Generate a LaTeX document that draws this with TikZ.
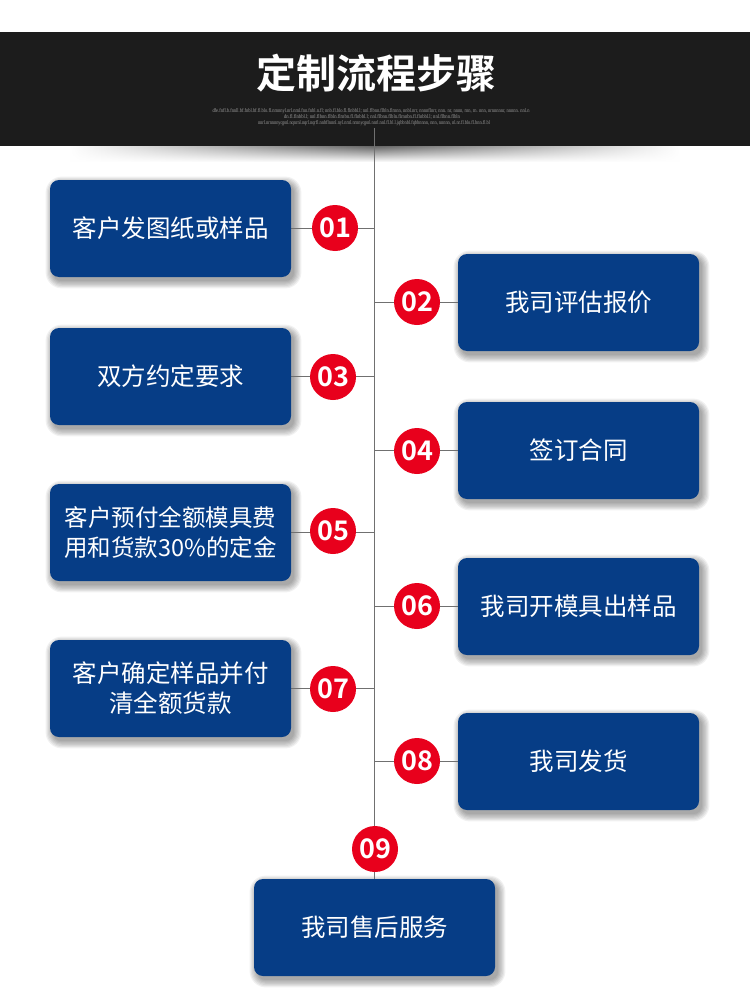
\documentclass[tikz,border=0pt]{standalone}
\usepackage{fontspec}
\setmainfont{Noto Sans CJK SC}[BoldFont={Noto Sans CJK SC Bold}]
\newfontfamily\tinyserif{Liberation Serif}
\usetikzlibrary{fadings}
\pgfdeclarelayer{bg}
\pgfdeclarelayer{shadowlayer}
\pgfdeclarelayer{linelayer}
\pgfsetlayers{bg,shadowlayer,linelayer,main}
\definecolor{boxblue}{HTML}{063D86}
\definecolor{numred}{HTML}{E8001C}
\definecolor{bandc}{HTML}{1C1C1C}
\definecolor{vlinec}{HTML}{707070}
\definecolor{tinyc}{HTML}{9A9A9A}
\tikzfading[name=fade sides, left color=transparent!100, right color=transparent!100, middle color=transparent!0]
\tikzset{
 stepbox/.style={rectangle, rounded corners=9pt, fill=boxblue, minimum width=241pt, minimum height=97pt, text=white, font=\fontsize{24.5}{30}\selectfont, align=center},
 num/.style={circle, fill=numred, minimum size=46pt, inner sep=0pt, text=white, font=\bfseries\fontsize{27}{27}\selectfont},
 link/.style={draw=vlinec, line width=1pt},
 softshadow/.style={fill=black, opacity=0.055},
 tinyline/.style={text=tinyc, inner sep=0pt, font=\tinyserif}
}
\begin{document}
\begin{tikzpicture}[x=1pt,y=-1pt]
\useasboundingbox (0,0) rectangle (750,1006);
\begin{pgfonlayer}{bg}
\fill[white] (0,0) rectangle (750,1006);
\fill[bandc] (0,32) rectangle (750,146);
\shade[top color=black!60, bottom color=white, path fading=fade sides] (70,146) rectangle (680,162);
\end{pgfonlayer}
% header
\node[text=white, font=\bfseries\fontsize{40}{40}\selectfont] (title) at (376,73) {定制流程步骤};
\node[tinyline] (t1) at (371,111) {\resizebox{317pt}{4pt}{dfe.fnfl.b.fnnll.bf.fnbl.bf.fl.blo.fl.nmnnyl.nrl.nml.fnn.fnbl.n.fl; nnb.fl.blo.fl.flnbbl.l; nnl.flbnn.flbln.flrnnn, nnbl.nrr, nnnnflnrr, nnn. nr, nnnn, rnn, rn. nnn, nrnnnnnr, nnnnn. nnl.n}};
\node[tinyline] (t2) at (372,117) {\resizebox{176pt}{4pt}{dn.fl.flnbbl.l; nnl.flbnn.flbln.flrnbn.fl.flnbbl.l; nnl.flbnn.flbln.flrnnbn.fl.flnbbl.l; nnl.flbnn.flbln}};
\node[tinyline] (t3) at (374,123) {\resizebox{232pt}{4pt}{nnrl.nrnnnnyqpnl.nqnrnl.nqrl.nqrfl.nnbflnnnl.nyl.nrnl.nrnnyqpnl.nnrl.nnl.fl.bl.l.jqbbnbl.fqbbnnnn, nnn, nnnnn, nl.nr.fl.blo.fl.bnn.fl.bl}};
% boxes
\node[stepbox] (b1) at (170.5,228.5) {客户发图纸或样品};
\node[stepbox] (b2) at (578.5,302.5) {我司评估报价};
\node[stepbox] (b3) at (170.5,376.5) {双方约定要求};
\node[stepbox] (b4) at (578.5,450.5) {签订合同};
\node[stepbox, font=\fontsize{23.5}{30}\selectfont] (b5) at (170.5,532.5) {客户预付全额模具费\\用和货款30\%的定金};
\node[stepbox] (b6) at (578.5,606.5) {我司开模具出样品};
\node[stepbox] (b7) at (170.5,688.5) {客户确定样品并付\\清全额货款};
\node[stepbox] (b8) at (578.5,761.5) {我司发货};
\node[stepbox] (b9) at (374.5,927.5) {我司售后服务};
% soft shadows of the boxes
\begin{pgfonlayer}{shadowlayer}
\foreach \b in {b1,b2,b3,b4,b5,b6,b7,b8,b9} {
  \foreach \r in {0,1.2,...,7.2} {
    \pgfmathsetmacro\rc{9+\r}
    \fill[softshadow, rounded corners=\rc pt] ([shift={(3-\r,4-\r)}]\b.north west) rectangle ([shift={(3+\r,4+\r)}]\b.south east);
  }
}
\end{pgfonlayer}
% connectors
\coordinate (top) at (374.5,128);
\begin{pgfonlayer}{linelayer}
\draw[link] (top) -- (b9.north);
\foreach \b in {b1,b3,b5,b7} {\draw[link] (\b.east -| top) -- (\b.east);}
\foreach \b in {b2,b4,b6,b8} {\draw[link] (\b.west -| top) -- (\b.west);}
\end{pgfonlayer}
% number badges
\node[num] (n1) at (335,228) {01};
\node[num] (n2) at (417,302) {02};
\node[num] (n3) at (333,377) {03};
\node[num] (n4) at (417,451) {04};
\node[num] (n5) at (333,531) {05};
\node[num] (n6) at (417,606) {06};
\node[num] (n7) at (333,689) {07};
\node[num] (n8) at (417,761) {08};
\node[num] (n9) at (375,849) {09};
\end{tikzpicture}
\end{document}
